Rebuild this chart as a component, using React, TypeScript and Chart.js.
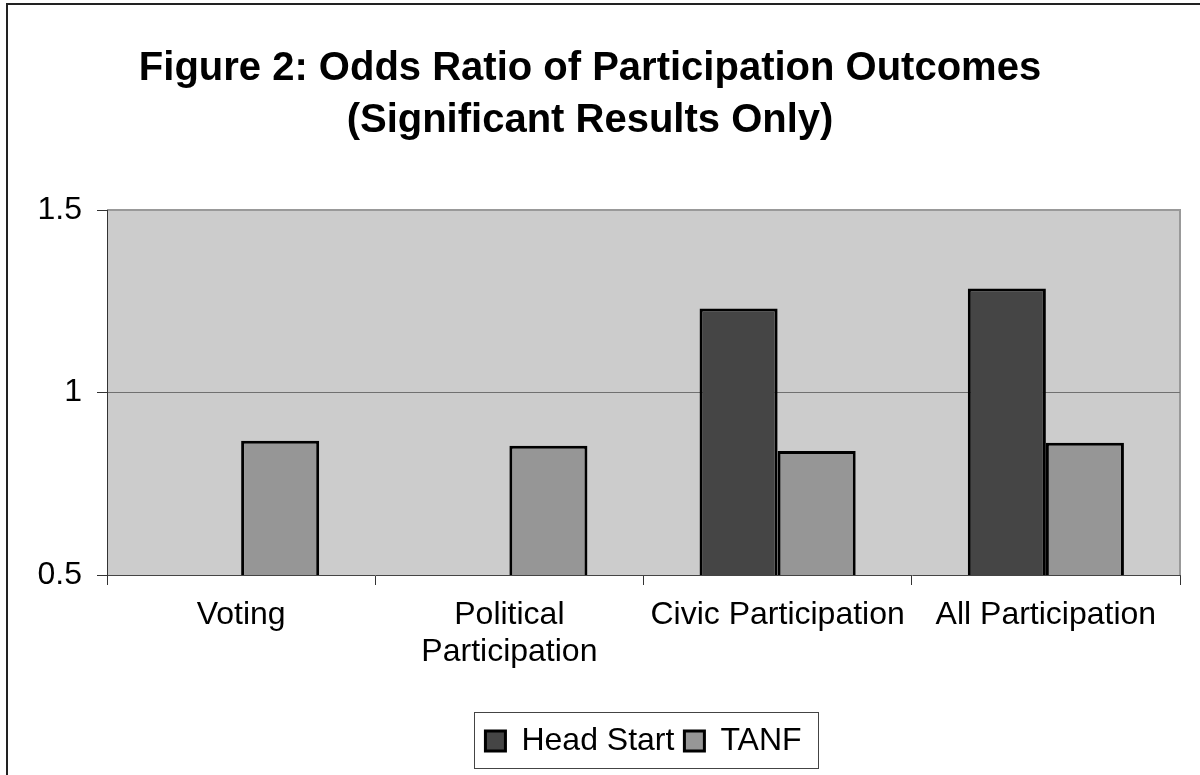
import React, { useEffect, useRef } from "react";
import { Chart, registerables } from "chart.js";

Chart.register(...registerables);

const categories: (string | string[])[] = [
  "Voting",
  ["Political", "Participation"],
  "Civic Participation",
  "All Participation",
];
const headStart: (number | null)[] = [null, null, 1.23, 1.285];
const tanf: number[] = [0.868, 0.854, 0.84, 0.862];
const titleLines: string[] = [
  "Figure 2: Odds Ratio of Participation Outcomes",
  "(Significant Results Only)",
];
const yMin = 0.5;
const yMax = 1.5;
const yStep = 0.5;

const FONT = '"Liberation Sans", Arial, Helvetica, sans-serif';

const decorPlugin = {
  id: "decor",
  beforeDraw(chart: any) {
    const { ctx, chartArea } = chart;
    const { left, top, right, bottom } = chartArea;
    ctx.save();
    ctx.fillStyle = "#ffffff";
    ctx.fillRect(0, 0, chart.width, chart.height);
    ctx.fillStyle = "#cccccc";
    ctx.fillRect(left, top, right - left, bottom - top);
    ctx.strokeStyle = "#999999";
    ctx.lineWidth = 2;
    ctx.beginPath();
    ctx.moveTo(left, top);
    ctx.lineTo(right, top);
    ctx.lineTo(right, bottom);
    ctx.stroke();
    ctx.restore();
  },
  afterDraw(chart: any) {
    const { ctx } = chart;
    ctx.save();
    // outer frame (top and left)
    ctx.strokeStyle = "#222222";
    ctx.lineWidth = 2;
    ctx.beginPath();
    ctx.moveTo(1200, 4);
    ctx.lineTo(7, 4);
    ctx.lineTo(7, 775);
    ctx.stroke();
    // legend frame
    const hb = chart.legend && chart.legend.legendHitBoxes;
    if (hb && hb.length) {
      const first = hb[0];
      const last = hb[hb.length - 1];
      const cy = first.top + first.height / 2;
      const x0 = Math.round(first.left - 11) + 0.5;
      const x1 = Math.round(last.left + last.width + 16) + 0.5;
      const y0 = Math.round(cy - 29) + 0.5;
      const y1 = Math.round(cy + 27) + 0.5;
      ctx.strokeStyle = "#444444";
      ctx.lineWidth = 1;
      ctx.strokeRect(x0, y0, x1 - x0, y1 - y0);
    }
    ctx.restore();
  },
};

export default function App() {
  const canvasRef = useRef<HTMLCanvasElement | null>(null);

  useEffect(() => {
    if (!canvasRef.current) return;
    Chart.defaults.font.family = FONT;
    const chart = new Chart(canvasRef.current, {
      type: "bar",
      data: {
        labels: categories as any,
        datasets: [
          {
            label: "Head Start",
            data: headStart as any,
            backgroundColor: "#454545",
            borderColor: "#000000",
            borderWidth: 3,
            borderSkipped: false,
          },
          {
            label: "TANF",
            data: tanf,
            backgroundColor: "#969696",
            borderColor: "#000000",
            borderWidth: 3,
            borderSkipped: false,
          },
        ],
      },
      options: {
        animation: false,
        responsive: false,
        maintainAspectRatio: false,
        devicePixelRatio: 1,
        layout: { padding: { left: 0, right: 20, top: 0, bottom: 8 } },
        datasets: {
          bar: { categoryPercentage: 0.582, barPercentage: 1 },
        },
        plugins: {
          title: {
            display: true,
            text: titleLines,
            color: "#000000",
            font: { size: 40, weight: "bold", family: FONT, lineHeight: 1.3 },
            padding: { top: 43, bottom: 63 },
          },
          legend: {
            display: true,
            position: "bottom",
            fullSize: false,
            labels: {
              color: "#000000",
              font: { size: 32, family: FONT },
              boxWidth: 20,
              boxHeight: 20,
              padding: 10,
            },
          },
          tooltip: { enabled: false },
        },
        scales: {
          x: {
            type: "category",
            offset: true,
            grid: {
              offset: true,
              drawOnChartArea: false,
              drawTicks: true,
              tickLength: 10,
              tickColor: "#333333",
            },
            border: { display: true, color: "#444444", width: 1 },
            ticks: {
              color: "#000000",
              font: { size: 32, family: FONT, lineHeight: 1.15 },
              padding: 12,
              maxRotation: 0,
              minRotation: 0,
              autoSkip: false,
            },
            afterFit(scale: any) {
              scale.height = 140;
            },
          },
          y: {
            min: yMin,
            max: yMax,
            grid: {
              drawTicks: true,
              tickLength: 10,
              tickColor: "#333333",
              color: (ctx: any) =>
                ctx.tick && ctx.tick.value === 1 ? "#707070" : "rgba(0,0,0,0)",
            },
            border: { display: true, color: "#333333", width: 1 },
            ticks: {
              stepSize: yStep,
              color: "#000000",
              font: { size: 32, family: FONT },
              padding: 15,
              callback: (value: any) => String(Number(value)),
            },
            afterFit(scale: any) {
              scale.width = 107;
            },
          },
        },
      },
      plugins: [decorPlugin],
    });
    return () => chart.destroy();
  }, []);

  return (
    <div style={{ position: "absolute", left: 0, top: 0, width: 1200, height: 775 }}>
      <canvas ref={canvasRef} width={1200} height={775} style={{ display: "block" }} />
    </div>
  );
}
